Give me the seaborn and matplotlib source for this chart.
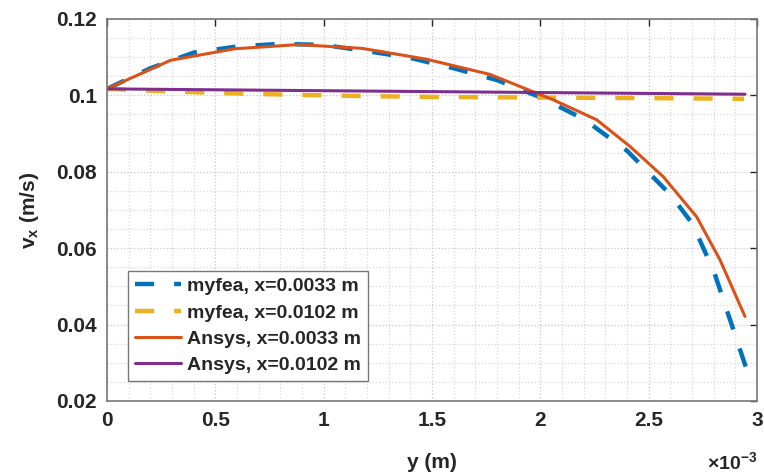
import matplotlib
matplotlib.use("Agg")
import matplotlib.pyplot as plt
import matplotlib.ticker as mticker
import seaborn as sns
import pandas as pd

# y positions in metres, velocities in m/s
y_myfea_a = [0.0, 0.0002, 0.0004, 0.0006, 0.0008, 0.0010, 0.0012, 0.0014, 0.0016,
             0.0018, 0.0020, 0.0022, 0.0024, 0.0026, 0.0027, 0.0028, 0.0029, 0.00295]
vx_myfea_a = [0.1017, 0.1071, 0.1112, 0.1128, 0.1135, 0.1132, 0.1116, 0.1098, 0.1071,
              0.1040, 0.0995, 0.0938, 0.0855, 0.0740, 0.0665, 0.0540, 0.0370, 0.0285]

y_myfea_b = [0.0, 0.0003, 0.0006, 0.0009, 0.0012, 0.0015, 0.0018, 0.0021, 0.0024,
             0.0027, 0.00294]
vx_myfea_b = [0.1017, 0.1010, 0.1005, 0.1001, 0.0998, 0.0996, 0.0995, 0.0994, 0.0993,
              0.0992, 0.0991]

y_ansys_a = [0.0, 0.000294, 0.000589, 0.000883, 0.001178, 0.001472, 0.001767,
             0.002061, 0.00226, 0.002414, 0.002567, 0.002721, 0.002829, 0.002944]
vx_ansys_a = [0.1017, 0.1092, 0.1122, 0.1133, 0.1123, 0.1095, 0.1055,
              0.0988, 0.0936, 0.0866, 0.0787, 0.0682, 0.0569, 0.0421]

y_ansys_b = [0.0, 0.001472, 0.002944]
vx_ansys_b = [0.1017, 0.1010, 0.1003]

labels = ["myfea, x=0.0033 m", "myfea, x=0.0102 m", "Ansys, x=0.0033 m", "Ansys, x=0.0102 m"]
colors = ["#0072BD", "#EDB120", "#D95319", "#7E2F8E"]

sns.set_theme(style="white")
plt.rcParams["font.family"] = ["Liberation Sans", "DejaVu Sans"]
plt.rcParams["font.weight"] = "bold"
plt.rcParams["mathtext.fontset"] = "custom"
plt.rcParams["mathtext.rm"] = "Liberation Sans:bold"
plt.rcParams["mathtext.bf"] = "Liberation Sans:bold"
plt.rcParams["mathtext.default"] = "bf"

fig = plt.figure(figsize=(7.64, 4.75), dpi=100)
ax = fig.add_axes([0.140, 0.156, 0.851, 0.804])

dash = (0, (4.3, 4.5))
series = [
    (y_myfea_a, vx_myfea_a, dash, 3.2),
    (y_myfea_b, vx_myfea_b, dash, 3.2),
    (y_ansys_a, vx_ansys_a, "-", 2.2),
    (y_ansys_b, vx_ansys_b, "-", 2.2),
]
for (xs, ys, ls, lw), lab, col in zip(series, labels, colors):
    df = pd.DataFrame({"y": xs, "vx": ys})
    sns.lineplot(data=df, x="y", y="vx", ax=ax, color=col, linestyle=ls,
                 linewidth=lw, label=lab, sort=False)

ax.set_xlim(0, 0.003)
ax.set_ylim(0.02, 0.12)
ax.xaxis.set_major_locator(mticker.MultipleLocator(0.0005))
ax.xaxis.set_minor_locator(mticker.MultipleLocator(0.0001))
ax.yaxis.set_major_locator(mticker.MultipleLocator(0.02))
ax.yaxis.set_minor_locator(mticker.MultipleLocator(0.005))
ax.xaxis.set_major_formatter(mticker.FuncFormatter(lambda v, p: "%g" % round(v * 1e3, 4)))
ax.yaxis.set_major_formatter(mticker.FuncFormatter(lambda v, p: "%g" % round(v, 4)))

ax.grid(True, which="major", color="#c8c8c8", linestyle=":", linewidth=0.9)
ax.grid(True, which="minor", color="#d8d8d8", linestyle=":", linewidth=0.9)
ax.set_axisbelow(True)

ax.tick_params(which="major", direction="in", length=5, width=1, color="#262626",
               top=True, right=True, labelsize=15, labelcolor="#262626", pad=7)
ax.tick_params(which="minor", length=0)
for lbl in ax.get_xticklabels() + ax.get_yticklabels():
    lbl.set_fontweight("bold")
for sp in ax.spines.values():
    sp.set_color("#777777")
    sp.set_linewidth(1.2)

ax.set_xlabel("y (m)", fontsize=15, fontweight="bold", color="#262626", labelpad=17)
ax.set_ylabel("v$_x$ (m/s)", fontsize=15, fontweight="bold", color="#262626", labelpad=11)
ax.annotate(r"$\times$10$^{-3}$", xy=(1.0, 0.0), xycoords="axes fraction",
            xytext=(0, -72), textcoords="offset pixels", ha="right", va="bottom",
            fontsize=14, color="#262626")

leg = ax.legend(loc="lower left", bbox_to_anchor=(0.032, 0.052), borderaxespad=0,
                frameon=True, fancybox=False, handlelength=2.4,
                handletextpad=0.3, labelspacing=0.45, borderpad=0.35,
                prop={"weight": "bold", "size": 14})
leg.get_frame().set_edgecolor("#777777")
leg.get_frame().set_linewidth(1.0)
leg.get_frame().set_facecolor("white")
leg.get_frame().set_alpha(1.0)

fig.savefig("out.png", dpi=100)
